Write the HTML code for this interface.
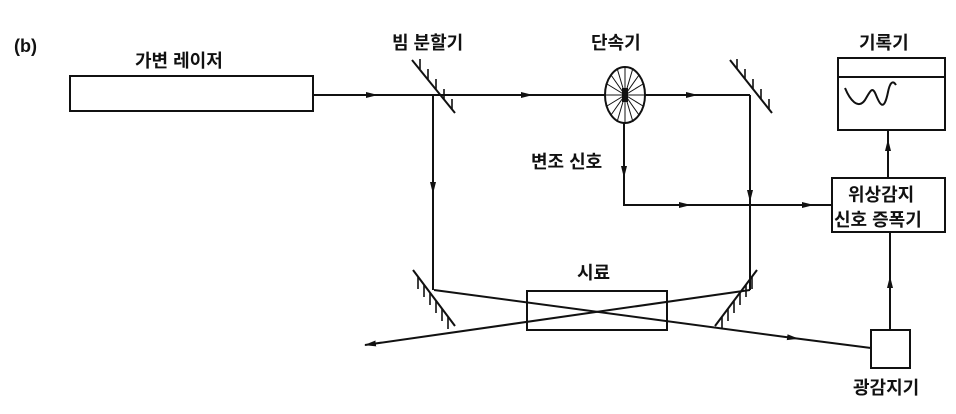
<!DOCTYPE html>
<html><head><meta charset="utf-8"><style>
html,body{margin:0;padding:0;background:#fff;}
svg text{font-family:"Liberation Sans","Noto Sans CJK KR",sans-serif;font-size:18px;font-weight:bold;fill:#111;}
</style></head><body>
<svg width="956" height="409" viewBox="0 0 956 409" xmlns="http://www.w3.org/2000/svg">
<defs><marker id="a" markerWidth="12" markerHeight="8" refX="6" refY="4" orient="auto" markerUnits="userSpaceOnUse"><path d="M0,1 L12,4 L0,7 Z" fill="#111"/></marker>
<marker id="e" markerWidth="12" markerHeight="8" refX="11" refY="4" orient="auto" markerUnits="userSpaceOnUse"><path d="M0,1 L12,4 L0,7 Z" fill="#111"/></marker></defs>
<g stroke="#111" stroke-width="2" fill="none">
<rect x="70" y="76" width="243" height="35"/>
<path d="M313,95 L372,95" marker-end="url(#a)"/><path d="M372,95 L433,95"/>
<path d="M433,95 L527,95" marker-end="url(#a)"/><path d="M527,95 L605,95"/>
<path d="M645,95 L692,95" marker-end="url(#a)"/><path d="M692,95 L750,95"/>
<path d="M433,95 L433,188" marker-end="url(#a)"/><path d="M433,188 L433,290"/>
<path d="M750,95 L750,196" marker-end="url(#a)"/><path d="M750,196 L750,290"/>
<path d="M412,60 L455,113"/>
<path d="M730,60 L772,113"/>
<ellipse cx="625" cy="95" rx="20" ry="28"/>
<path d="M624,123 L624,172" marker-end="url(#a)"/><path d="M624,172 L624,205 L685,205" marker-end="url(#a)"/><path d="M685,205 L808,205" marker-end="url(#a)"/><path d="M808,205 L832,205"/>
<rect x="832" y="178" width="113" height="54"/>
<rect x="838" y="58" width="107" height="72"/><path d="M838,77 L945,77"/>
<path d="M845,88 C850,100 858,110 865,100 C870,92 872,85 876,95 C880,105 884,112 888,92 C890,82 893,80 896,85"/>
<path d="M888,178 L888,145" marker-end="url(#a)"/><path d="M888,145 L888,130"/>
<path d="M890,330 L890,282" marker-end="url(#a)"/><path d="M890,282 L890,232"/>
<rect x="871" y="330" width="39" height="38"/>
<rect x="527" y="291" width="140" height="39"/>
<path d="M413,270 L455,326"/><path d="M757,270 L715,326"/>
<path d="M434,290 L793,338" marker-end="url(#a)"/><path d="M793,338 L871,348"/>
<path d="M750,290 L365,345" marker-end="url(#e)"/>
</g>
<g stroke="#111" stroke-width="1.6">
<path d="M420,69 v-10 M428,79 v-10 M436,89 v-10 M444,99 v-10 M452,109 v-10"/>
<path d="M737,69 v-10 M745,79 v-10 M753,89 v-10 M761,99 v-10 M769,109 v-10"/>
<path d="M418,277 v12 M424,285 v12 M430,293 v12 M436,301 v12 M442,309 v12 M448,317 v12"/>
<path d="M752,277 v12 M746,285 v12 M740,293 v12 M734,301 v12 M728,309 v12 M722,317 v12"/>
</g>
<g stroke="#111" stroke-width="1">
<path d="M625,67 V123 M605,95 H645 M611,75 L639,115 M639,75 L611,115 M607,84 L643,106 M643,84 L607,106 M617,68 L633,122 M633,68 L617,122"/>
</g>
<rect x="622" y="88" width="6" height="14" fill="#111"/>
<text x="14" y="52" font-size="15">(b)</text>
<text x="135" y="67">가변 레이저</text>
<text x="392" y="49">빔 분할기</text>
<text x="591" y="49">단속기</text>
<text x="859" y="49">기록기</text>
<text x="531" y="168">변조 신호</text>
<text x="848" y="201">위상감지</text>
<text x="834" y="226">신호 증폭기</text>
<text x="577" y="279">시료</text>
<text x="853" y="394">광감지기</text>
</svg>
</body></html>
